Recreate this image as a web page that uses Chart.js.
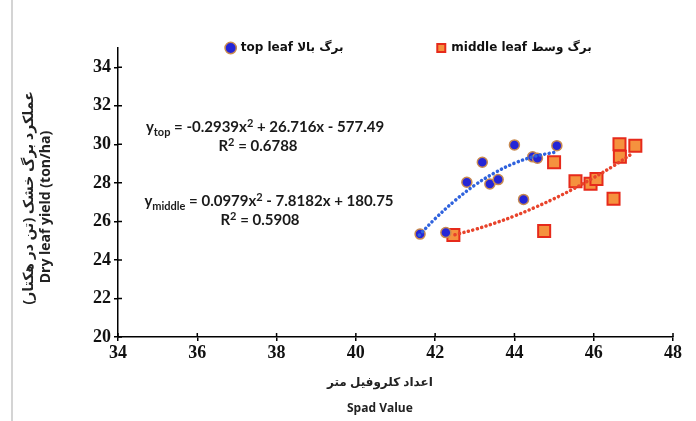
<!DOCTYPE html>
<html><head><meta charset="utf-8">
<script src="https://cdn.jsdelivr.net/npm/chart.js@4.4.1/dist/chart.umd.min.js"></script>
<style>html,body{margin:0;padding:0;background:#fff;} #wrap{width:696px;height:421px;}</style>
</head><body><div id="wrap"><canvas id="c" width="696" height="421"></canvas></div>
<script>
// ---- data ----
const xTicks = [34, 36, 38, 40, 42, 44, 46, 48];
const yTicks = [20, 22, 24, 26, 28, 30, 32, 34];
const seriesNames = ['top leaf برگ بالا', 'middle leaf برگ وسط'];
const topSpad  = [41.62, 42.27, 42.80, 43.19, 43.38, 43.59, 44.00, 44.23, 44.46, 44.58, 45.07];
const topYield = [25.34, 25.42, 28.03, 29.07, 27.94, 28.17, 29.97, 27.14, 29.35, 29.28, 29.93];
const midSpad  = [42.46, 44.75, 45.00, 45.54, 45.92, 46.07, 46.50, 46.65, 46.66, 47.05];
const midYield = [25.30, 25.50, 29.07, 28.08, 27.96, 28.20, 27.17, 30.00, 29.35, 29.93];
// trendline points
const topTrendX = [41.6, 42.0, 42.5, 43.0, 43.5, 44.0, 44.5, 45.0];
const topTrendY = [25.29, 26.14, 27.08, 27.88, 28.52, 29.02, 29.37, 29.58];
const midTrendX = [42.5, 43.0, 43.5, 44.0, 44.5, 45.0, 45.5, 46.0, 46.5, 47.0];
const midTrendY = [25.31, 25.58, 25.91, 26.28, 26.71, 27.18, 27.70, 28.27, 28.88, 29.56];
const yTitle = ['عملکرد برگ خشک (تن در هکتار)\u200F', 'Dry leaf yield (ton/ha)'];
const xTitle = ['اعداد کلروفیل متر', 'Spad Value'];
const eqTop = ['y', 'top', ' = -0.2939x', '2', ' + 26.716x - 577.49'];
const r2Top = ['R', '2', ' = 0.6788'];
const eqMid = ['y', 'middle', ' = 0.0979x', '2', ' - 7.8182x + 180.75'];
const r2Mid = ['R', '2', ' = 0.5908'];

const pts = (xs, ys) => xs.map((x, i) => ({x: x, y: ys[i]}));

const EQ_FAMILY = 'Lato, "DejaVu Sans", sans-serif';
function drawRich(ctx, parts, kinds, cx, cy, size) {
  const fonts = kinds.map(k => 'bold ' + (k === 'n' ? size : Math.round(size * 0.7)) + 'px ' + EQ_FAMILY);
  let total = 0;
  const widths = parts.map((p, i) => { ctx.font = fonts[i]; const w = ctx.measureText(p).width; total += w; return w; });
  let x = cx - total / 2;
  ctx.textBaseline = 'alphabetic';
  ctx.textAlign = 'left';
  parts.forEach((p, i) => {
    ctx.font = fonts[i];
    let y = cy + size * 0.35;
    if (kinds[i] === 'sub') y += size * 0.22;
    if (kinds[i] === 'sup') y -= size * 0.38;
    ctx.fillText(p, x, y);
    x += widths[i];
  });
}

const LEG_SHIFT = 16;
const decor = {
  id: 'decor',
  beforeLayout(chart) {
    const lg = chart.legend;
    if (lg && !lg._shrunk) {
      const f = lg.fit;
      lg.fit = function () { f.call(this); this.height = Math.max(0, this.height - LEG_SHIFT); };
      const d = lg.draw;
      lg.draw = function () {
        this.height += LEG_SHIFT; this.bottom += LEG_SHIFT;
        d.call(this);
        this.height -= LEG_SHIFT; this.bottom -= LEG_SHIFT;
      };
      lg._shrunk = true;
    }
  },
  beforeDraw(chart) {
    const ctx = chart.ctx;
    ctx.save();
    ctx.fillStyle = '#fff';
    ctx.fillRect(0, 0, chart.width, chart.height);
    ctx.strokeStyle = '#d4d4d4';
    ctx.lineWidth = 2;
    ctx.beginPath(); ctx.moveTo(12, 0); ctx.lineTo(12, chart.height); ctx.stroke();
    ctx.restore();
  },
  afterDraw(chart) {
    const ctx = chart.ctx;
    const a = chart.chartArea;
    const xs = chart.scales.x, ys = chart.scales.y;
    ctx.save();
    ctx.strokeStyle = '#000';
    ctx.lineWidth = 1.5;
    ctx.beginPath();
    xs.ticks.forEach(t => { const px = xs.getPixelForValue(t.value); ctx.moveTo(px, a.bottom); ctx.lineTo(px, a.bottom - 4); });
    ys.ticks.forEach(t => { const py = ys.getPixelForValue(t.value); ctx.moveTo(a.left, py); ctx.lineTo(a.left + 4, py); });
    ctx.stroke();
    ctx.fillStyle = '#1a1a1a';
    drawRich(ctx, eqTop, ['n', 'sub', 'n', 'sup', 'n'], 265, 127, 15);
    drawRich(ctx, r2Top, ['n', 'sup', 'n'], 258, 146, 15);
    drawRich(ctx, eqMid, ['n', 'sub', 'n', 'sup', 'n'], 269, 201, 15);
    drawRich(ctx, r2Mid, ['n', 'sup', 'n'], 260, 220, 15);
    ctx.restore();
  }
};

const tickFont = {family: '"Liberation Serif", serif', weight: 'bold', size: 18};
const titleFamily = '"Open Sans", "DejaVu Sans", sans-serif';

new Chart(document.getElementById('c'), {
  type: 'scatter',
  data: {
    datasets: [
      {label: seriesNames[0], data: pts(topSpad, topYield), pointStyle: 'circle', pointRadius: 5,
       backgroundColor: '#2525d6', borderColor: '#c88a50', borderWidth: 1.5, order: 2},
      {label: seriesNames[1], data: pts(midSpad, midYield), pointStyle: 'rect', pointRadius: 8.5,
       backgroundColor: '#f5923e', borderColor: '#e62a1b', borderWidth: 2, order: 3},
      {type: 'line', label: 'trend-top', data: pts(topTrendX, topTrendY), borderColor: '#2f62dd',
       borderWidth: 3.5, borderDash: [0.1, 4.5], borderCapStyle: 'round', pointRadius: 0, fill: false, tension: 0.4, order: 1},
      {type: 'line', label: 'trend-mid', data: pts(midTrendX, midTrendY), borderColor: '#e8432b',
       borderWidth: 3.5, borderDash: [0.1, 4.5], borderCapStyle: 'round', pointRadius: 0, fill: false, tension: 0.4, order: 1}
    ]
  },
  options: {
    responsive: false,
    animation: false,
    events: [],
    layout: {padding: {left: 20, right: 23, top: 36, bottom: 0}},
    plugins: {
      tooltip: {enabled: false},
      legend: {
        position: 'top',
        align: 'end',
        labels: {
          usePointStyle: true,
          boxWidth: 8, boxHeight: 8,
          padding: 6,
          color: '#111',
          font: {family: '"DejaVu Sans", sans-serif', weight: 'bold', size: 12},
          filter: item => item.datasetIndex < 2,
          generateLabels(chart) {
            const items = Chart.defaults.plugins.legend.labels.generateLabels(chart);
            items.forEach(it => {
              if (it.datasetIndex === 0) it.text = it.text + ' '.repeat(21);
              if (it.datasetIndex === 1) it.text = it.text + ' '.repeat(18);
            });
            return items;
          }
        }
      }
    },
    scales: {
      x: {
        type: 'linear', min: 34, max: 48,
        afterBuildTicks: s => { s.ticks = xTicks.map(v => ({value: v})); },
        afterFit: s => { s.height = 84; },
        border: {color: '#000', width: 1.5},
        grid: {drawOnChartArea: false, drawTicks: true, tickLength: 4, color: '#000', lineWidth: 1.5},
        ticks: {font: tickFont, color: '#111', padding: 2, maxRotation: 0, autoSkip: false},
        title: {display: true, text: xTitle.map(t => t + ' '.repeat(10)), color: '#222', padding: 0,
                font: {family: titleFamily, weight: 'bold', size: 12, lineHeight: 2.15}}
      },
      y: {
        type: 'linear', min: 20, max: 35,
        afterBuildTicks: s => { s.ticks = yTicks.map(v => ({value: v})); },
        afterFit: s => { s.width = 98; },
        border: {color: '#000', width: 1.5},
        grid: {drawOnChartArea: false, drawTicks: true, tickLength: 4, color: '#000', lineWidth: 1.5},
        ticks: {font: tickFont, color: '#111', padding: 3, autoSkip: false},
        title: {display: true, text: [yTitle[0] + ' '.repeat(3), yTitle[1] + ' '.repeat(8)], color: '#222', padding: 0,
                font: {family: titleFamily, weight: 'bold', size: 14, lineHeight: 1.25}}
      }
    }
  },
  plugins: [decor]
});
</script>
</body></html>
